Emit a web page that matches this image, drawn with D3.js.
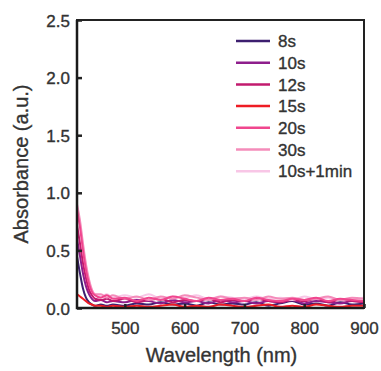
<!DOCTYPE html>
<html>
<head>
<meta charset="utf-8">
<script src="https://cdn.jsdelivr.net/npm/d3@7"></script>
<style>
  body { margin: 0; background: #fff; }
  text { font-family: "Liberation Sans", Arial, sans-serif; fill: #333; stroke: #333; stroke-width: 0.35px; }
</style>
</head>
<body>
<div id="chart"></div>
<script>
const width = 381;
const height = 371;
const margin = { top: 20, right: 17, bottom: 63, left: 77 };

// data
const wavelengths = [420, 425, 430, 435, 440, 445, 450, 460, 470, 480,
  500, 520, 540, 560, 580, 600, 620, 640, 660, 680, 700,
  720, 740, 760, 780, 800, 820, 840, 860, 880, 900];

const seriesNames = ["8s", "10s", "12s", "15s", "20s", "30s", "10s+1min"];
const seriesColors = ["#3d1f6f", "#8e1e8c", "#c21a6e", "#ee1c24", "#f0468e", "#f48cba", "#f8c6e6"];

const s8 = [0.45, 0.30, 0.17, 0.09, 0.05, 0.03, 0.02, 0.03, 0.02, 0.03,
  0.02, 0.04, 0.03, 0.05, 0.03, 0.04, 0.02, 0.05, 0.03, 0.04, 0.03,
  0.05, 0.02, 0.04, 0.06, 0.03, 0.04, 0.02, 0.05, 0.03, 0.04];
const s10 = [0.60, 0.45, 0.30, 0.19, 0.12, 0.08, 0.06, 0.07, 0.05, 0.06,
  0.05, 0.07, 0.06, 0.04, 0.07, 0.05, 0.06, 0.04, 0.07, 0.05, 0.06,
  0.04, 0.06, 0.05, 0.07, 0.04, 0.06, 0.05, 0.04, 0.06, 0.05];
const s12 = [0.72, 0.56, 0.39, 0.26, 0.16, 0.11, 0.08, 0.07, 0.08, 0.06,
  0.08, 0.05, 0.07, 0.08, 0.05, 0.07, 0.06, 0.08, 0.05, 0.07, 0.06,
  0.08, 0.06, 0.05, 0.07, 0.06, 0.08, 0.05, 0.07, 0.06, 0.05];
const s15 = [0.12, 0.10, 0.08, 0.06, 0.04, 0.03, 0.02, 0.02, 0.01, 0.02,
  0.01, 0.02, 0.01, 0.02, 0.03, 0.01, 0.02, 0.01, 0.03, 0.02, 0.01,
  0.02, 0.03, 0.01, 0.02, 0.01, 0.03, 0.02, 0.01, 0.02, 0.02];
const s20 = [0.85, 0.70, 0.50, 0.33, 0.21, 0.14, 0.11, 0.09, 0.11, 0.08,
  0.09, 0.06, 0.09, 0.07, 0.10, 0.08, 0.06, 0.09, 0.07, 0.08, 0.06,
  0.09, 0.07, 0.06, 0.08, 0.07, 0.09, 0.06, 0.08, 0.07, 0.06];
const s30 = [0.90, 0.76, 0.56, 0.38, 0.25, 0.16, 0.12, 0.12, 0.09, 0.11,
  0.08, 0.10, 0.07, 0.10, 0.08, 0.11, 0.09, 0.07, 0.10, 0.08, 0.09,
  0.07, 0.10, 0.08, 0.09, 0.07, 0.08, 0.10, 0.07, 0.09, 0.08];
const s10m = [0.88, 0.73, 0.53, 0.36, 0.23, 0.15, 0.12, 0.10, 0.12, 0.09,
  0.11, 0.09, 0.12, 0.08, 0.10, 0.09, 0.11, 0.08, 0.10, 0.09, 0.08,
  0.10, 0.08, 0.09, 0.07, 0.10, 0.08, 0.09, 0.07, 0.08, 0.09];
const seriesValues = [s8, s10, s12, s15, s20, s30, s10m];

const xTicks = [500, 600, 700, 800, 900];
const yTicks = [0, 0.5, 1.0, 1.5, 2.0, 2.5];

const svg = d3.select("#chart")
  .append("svg")
  .attr("width", width)
  .attr("height", height);

const x = d3.scaleLinear()
  .domain([420, 900])
  .range([margin.left, width - margin.right]);
const y = d3.scaleLinear()
  .domain([0, 2.5])
  .range([height - margin.bottom, margin.top]);

svg.append("clipPath")
  .attr("id", "clip")
  .append("rect")
  .attr("x", margin.left)
  .attr("y", margin.top)
  .attr("width", width - margin.left - margin.right)
  .attr("height", height - margin.top - margin.bottom);

const line = d3.line()
  .x((d, i) => x(wavelengths[i]))
  .y(d => y(d))
  .curve(d3.curveMonotoneX);

// draw order: lighter ones later on top, red last
const order = [0, 1, 2, 6, 5, 4, 3];
svg.append("g")
  .attr("clip-path", "url(#clip)")
  .selectAll("path")
  .data(order)
  .join("path")
    .attr("d", i => line(seriesValues[i]))
    .attr("fill", "none")
    .attr("stroke", i => seriesColors[i])
    .attr("stroke-width", 2);

// axes
const xAxis = svg.append("g")
  .attr("transform", `translate(0,${height - margin.bottom})`)
  .call(d3.axisBottom(x).tickValues(xTicks).tickSize(-4).tickPadding(14).tickFormat(d3.format("d")));
const yAxis = svg.append("g")
  .attr("transform", `translate(${margin.left},0)`)
  .call(d3.axisLeft(y).tickValues(yTicks).tickSize(-5).tickPadding(7).tickFormat(d3.format(".1f")));

[xAxis, yAxis].forEach(a => {
  a.select(".domain").remove();
  a.selectAll(".tick line").attr("stroke", "#222").attr("stroke-width", 2.5);
  a.selectAll(".tick text")
    .attr("font-size", 17)
    .attr("font-family", "Liberation Sans, Arial, sans-serif")
    .attr("fill", "#333");
});
yAxis.selectAll(".tick text").attr("dy", "0.36em");

// frame
svg.append("rect")
  .attr("x", margin.left)
  .attr("y", margin.top)
  .attr("width", width - margin.left - margin.right)
  .attr("height", height - margin.top - margin.bottom)
  .attr("fill", "none")
  .attr("stroke", "#222")
  .attr("stroke-width", 2);
svg.append("path")
  .attr("d", `M${margin.left},${margin.top}V${height - margin.bottom}H${width - margin.right}`)
  .attr("fill", "none")
  .attr("stroke", "#1a1a1a")
  .attr("stroke-width", 2.5);

// titles
svg.append("text")
  .attr("x", (margin.left + width - margin.right) / 2 + 1)
  .attr("y", 362)
  .attr("text-anchor", "middle")
  .attr("font-size", 20)
  .text("Wavelength (nm)");
svg.append("text")
  .attr("transform", `translate(28,${(margin.top + height - margin.bottom) / 2}) rotate(-90)`)
  .attr("text-anchor", "middle")
  .attr("font-size", 20)
  .text("Absorbance (a.u.)");

// legend
const legend = svg.append("g")
  .attr("transform", "translate(236,41)");
const rows = legend.selectAll("g")
  .data(seriesNames)
  .join("g")
    .attr("transform", (d, i) => `translate(0,${i * 21.7})`);
rows.append("line")
  .attr("x1", 0).attr("x2", 34)
  .attr("stroke", (d, i) => seriesColors[i])
  .attr("stroke-width", 2.5);
rows.append("text")
  .attr("x", 42)
  .attr("dy", "0.36em")
  .attr("font-size", 17)
  .text(d => d);
</script>
</body>
</html>
